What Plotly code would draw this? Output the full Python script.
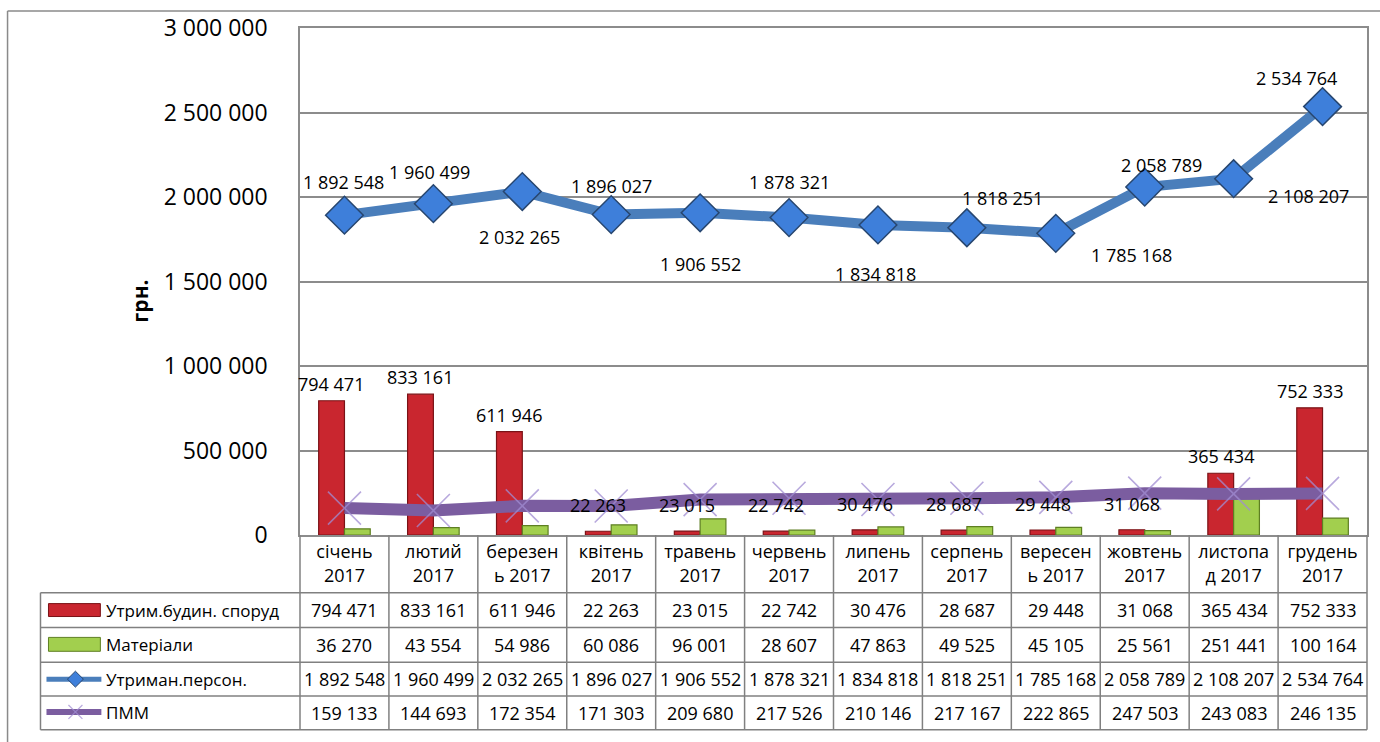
import plotly.graph_objects as go

# ---------------- data ----------------
categories = ["січень<br>2017", "лютий<br>2017", "березен<br>ь 2017", "квітень<br>2017",
              "травень<br>2017", "червень<br>2017", "липень<br>2017", "серпень<br>2017",
              "вересен<br>ь 2017", "жовтень<br>2017", "листопа<br>д 2017", "грудень<br>2017"]
utrym_budyn = [794471, 833161, 611946, 22263, 23015, 22742, 30476, 28687, 29448, 31068, 365434, 752333]
materialy = [36270, 43554, 54986, 60086, 96001, 28607, 47863, 49525, 45105, 25561, 251441, 100164]
utryman_person = [1892548, 1960499, 2032265, 1896027, 1906552, 1878321, 1834818, 1818251,
                  1785168, 2058789, 2108207, 2534764]
pmm = [159133, 144693, 172354, 171303, 209680, 217526, 210146, 217167, 222865, 247503, 243083, 246135]
series_names = ["Утрим.будин. споруд", "Матеріали", "Утриман.персон.", "ПММ"]
y_tick_values = [0, 500000, 1000000, 1500000, 2000000, 2500000, 3000000]
y_title = "грн."

# ---------------- styling ----------------
FONT = "Open Sans"
W, H = 1380, 742
L, R, T, B = 300, 11, 25, 207
PW, PH = W - L - R, H - T - B
GRID = "#8c8c8c"
RED, RED_EDGE = "#C9262F", "#7A1216"
GREEN, GREEN_EDGE = "#A2CF4E", "#5E7F22"
BLUE, BLUE_MK, BLUE_EDGE = "#4A7EBB", "#3E7FDA", "#27466F"
PURPLE, PURPLE_X = "#7B5DA0", "rgba(160,140,210,0.75)"


def xp(px):
    return (px - L) / PW


def yp(py):
    return (T + PH - py) / PH


def fmt(v):
    return f"{v:,}".replace(",", " ")


fig = go.Figure()
fig.add_trace(go.Bar(x=categories, y=utrym_budyn, name=series_names[0],
                     marker=dict(color=RED, line=dict(color=RED_EDGE, width=1.2))))
fig.add_trace(go.Bar(x=categories, y=materialy, name=series_names[1],
                     marker=dict(color=GREEN, line=dict(color=GREEN_EDGE, width=1.2))))
fig.add_trace(go.Scatter(x=categories, y=pmm, name=series_names[3], mode="lines+markers",
                         line=dict(color=PURPLE, width=12),
                         marker=dict(symbol="x-thin", size=33, color=PURPLE_X,
                                     line=dict(color=PURPLE_X, width=1.6))))
fig.add_trace(go.Scatter(x=categories, y=utryman_person, name=series_names[2], mode="lines+markers",
                         line=dict(color=BLUE, width=10),
                         marker=dict(symbol="diamond", size=29, color=BLUE_MK,
                                     line=dict(color=BLUE_EDGE, width=1.5))))

annotations = []
# red bar labels
for c, v in zip(categories, utrym_budyn):
    annotations.append(dict(x=c, y=v, xref="x", yref="y", text=fmt(v), showarrow=False,
                            xanchor="center", yanchor="bottom",
                            xshift=-13, yshift=3 if v > 100000 else 12,
                            font=dict(family=FONT, size=18, color="black")))
# blue line labels (offsets in px)
blue_dx = [-1, -4, -3, 0, 0, 0, -2, 36, 76, 17, 75, -26]
blue_dy = [33, 32, -45, 29, -51, 36, -49, 30, -22, 22, -17, 29]
for c, v, dx, dy in zip(categories, utryman_person, blue_dx, blue_dy):
    annotations.append(dict(x=c, y=v, xref="x", yref="y", text=fmt(v), showarrow=False,
                            xanchor="center", yanchor="middle",
                            xshift=dx, yshift=dy, font=dict(family=FONT, size=18, color="black")))
# y axis title
annotations.append(dict(x=xp(140), y=yp(300), xref="paper", yref="paper", text=f"<b>{y_title}</b>",
                        xanchor="center", yanchor="middle",
                        textangle=-90, showarrow=False, font=dict(family=FONT, size=21, color="black")))

# ---------------- data table ----------------
shapes = []
row_lines = [593, 628, 663, 697, 731]
col_w = PW / len(categories)
line_style = dict(color="#808080", width=1.5)
for py in row_lines:
    shapes.append(dict(type="line", xref="paper", yref="paper", x0=xp(40), x1=xp(L + PW),
                       y0=yp(py), y1=yp(py), line=line_style))
for k in range(len(categories) + 1):
    px = L + k * col_w
    shapes.append(dict(type="line", xref="paper", yref="paper", x0=xp(px), x1=xp(px),
                       y0=yp(T + PH), y1=yp(731), line=line_style))
shapes.append(dict(type="line", xref="paper", yref="paper", x0=xp(40), x1=xp(40),
                   y0=yp(593), y1=yp(731), line=line_style))
# outer chart border (left/top)
shapes.append(dict(type="line", xref="paper", yref="paper", x0=xp(7), x1=xp(7),
                   y0=yp(8), y1=yp(745), line=dict(color="#8a8a8a", width=1.5)))
shapes.append(dict(type="line", xref="paper", yref="paper", x0=xp(7), x1=xp(1385),
                   y0=yp(8), y1=yp(8), line=dict(color="#8a8a8a", width=1.5)))

row_centers = [610.5, 645.5, 680, 714]
table_rows = [utrym_budyn, materialy, utryman_person, pmm]
for rc, vals, nm in zip(row_centers, table_rows, series_names):
    annotations.append(dict(x=xp(104), y=yp(rc), xref="paper", yref="paper", text=nm,
                            xanchor="left", yanchor="middle", showarrow=False,
                            font=dict(family=FONT, size=17, color="black")))
    for k, v in enumerate(vals):
        annotations.append(dict(x=xp(L + (k + 0.5) * col_w), y=yp(rc), xref="paper", yref="paper",
                                text=fmt(v), showarrow=False, xanchor="center", yanchor="middle",
                                font=dict(family=FONT, size=18, color="black")))

# legend keys
shapes.append(dict(type="rect", xref="paper", yref="paper", x0=xp(48), x1=xp(100), y0=yp(604), y1=yp(617),
                   fillcolor=RED, line=dict(color=RED_EDGE, width=1)))
shapes.append(dict(type="rect", xref="paper", yref="paper", x0=xp(48), x1=xp(100), y0=yp(638), y1=yp(652),
                   fillcolor=GREEN, line=dict(color=GREEN_EDGE, width=1)))
shapes.append(dict(type="line", xref="paper", yref="paper", x0=xp(46), x1=xp(101), y0=yp(680), y1=yp(680),
                   line=dict(color=BLUE, width=5)))
dx_, dy_ = 8, 8
shapes.append(dict(type="path", xref="paper", yref="paper",
                   path=f"M {xp(75 - dx_)},{yp(680)} L {xp(75)},{yp(680 - dy_)} L {xp(75 + dx_)},{yp(680)} "
                        f"L {xp(75)},{yp(680 + dy_)} Z",
                   fillcolor=BLUE_MK, line=dict(color=BLUE_EDGE, width=1)))
shapes.append(dict(type="line", xref="paper", yref="paper", x0=xp(46), x1=xp(101), y0=yp(713), y1=yp(713),
                   line=dict(color=PURPLE, width=6)))
for s in (-1, 1):
    shapes.append(dict(type="line", xref="paper", yref="paper", x0=xp(68), x1=xp(82),
                       y0=yp(713 - 7 * s), y1=yp(713 + 7 * s), line=dict(color=PURPLE_X, width=1.2)))

fig.update_layout(
    width=W, height=H,
    margin=dict(l=L, r=R, t=T, b=B),
    paper_bgcolor="white", plot_bgcolor="white",
    barmode="group", bargap=0.42, bargroupgap=0,
    showlegend=False,
    separators=". ",
    font=dict(family=FONT, size=18, color="black"),
    annotations=annotations,
    shapes=shapes,
)
fig.update_xaxes(type="category", range=[-0.5, len(categories) - 0.5], showgrid=False,
                 showline=True, linecolor=GRID, linewidth=1.5, mirror=True,
                 ticks="", tickfont=dict(family=FONT, size=18, color="black"))
fig.update_yaxes(range=[0, 3000000], tickvals=y_tick_values, tickformat=",d",
                 showgrid=True, gridcolor=GRID, gridwidth=1.5,
                 showline=True, linecolor=GRID, linewidth=1.5, mirror=True,
                 zeroline=False, ticks="", ticklabelstandoff=26,
                 tickfont=dict(family=FONT, size=23, color="black"))

fig.write_html("out.html", config={"displayModeBar": False})

# remove the default page margin so the figure sits at the window's top-left corner
with open("out.html", encoding="utf-8") as f:
    html = f.read()
html = html.replace("<body>", '<body style="margin:0;overflow:hidden">', 1)
with open("out.html", "w", encoding="utf-8") as f:
    f.write(html)
